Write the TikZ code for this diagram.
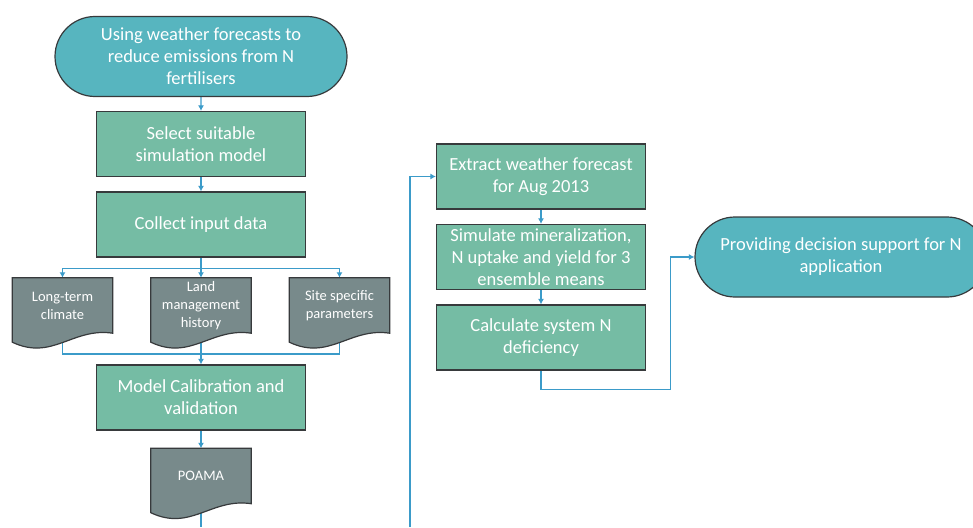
\documentclass[tikz,border=0pt]{standalone}
\usepackage{fontspec}
\setmainfont{Carlito}
\usetikzlibrary{shapes.misc,calc,arrows.meta}

\pgfdeclarelayer{lines}
\pgfdeclarelayer{shapes}
\pgfsetlayers{lines,shapes,main}

\definecolor{termfill}{RGB}{87,181,191}
\definecolor{procfill}{RGB}{117,188,164}
\definecolor{docfill}{RGB}{120,138,139}
\definecolor{edgegray}{RGB}{55,58,60}
\definecolor{linkblue}{RGB}{59,155,201}

\tikzset{
  terminal/.style={rounded rectangle, draw=edgegray, line width=1.2pt, fill=termfill, text=white,
    minimum width=292pt, minimum height=80pt, inner sep=0pt, align=center,
    font=\fontsize{18.5}{22}\selectfont},
  process/.style={rectangle, draw=edgegray, line width=1.2pt, fill=procfill, text=white,
    minimum width=209pt, minimum height=65pt, inner sep=0pt, align=center,
    font=\fontsize{18.5}{22}\selectfont},
  docnode/.style={rectangle, minimum width=100pt, minimum height=55pt, inner sep=0pt,
    text=white, align=center, font=\fontsize{14.5}{18}\selectfont},
  link/.style={->, >={Latex[length=5.5pt,width=6pt]}, line width=1.3pt, draw=linkblue},
  plainlink/.style={line width=1.3pt, draw=linkblue}
}

% document shape with wavy bottom, drawn under the node text
\newcommand{\docwave}[1]{%
  \begin{pgfonlayer}{shapes}
    \draw [draw=edgegray, line width=1.2pt, fill=docfill] (#1.north west) -- (#1.north east) -- (#1.south east)
      .. controls +(-40,-6) and +(40,19) .. ($(#1.south west)+(0,9)$) -- cycle;
  \end{pgfonlayer}}

\begin{document}
\begin{tikzpicture}[x=1pt,y=1pt,yscale=-1,xscale=1]
\useasboundingbox (0,0) rectangle (973,527);

% left column
\node [terminal] (start) at (201,56.5) {Using weather forecasts to\\reduce emissions from N\\fertilisers};
\node [process] (select) at (201,144) {Select suitable\\simulation model};
\node [process] (collect) at (201,224.5) {Collect input data};

% input documents
\node [docnode] (climate) at (62.5,305.5) {Long-term\\climate};
\node [docnode] (land) at (201,305.5) {Land\\management\\history};
\node [docnode] (params) at (339.5,305.5) {Site specific\\parameters};
\docwave{climate}
\docwave{land}
\docwave{params}

\node [process] (calib) at (201,397.5) {Model Calibration and\\validation};
\node [docnode] (poama) at (201,476) {POAMA};
\docwave{poama}

% right column
\node [process] (extract) at (541,176.5) {Extract weather forecast\\for Aug 2013};
\node [process] (simulate) at (541,257) {Simulate mineralization,\\N uptake and yield for 3\\ensemble means};
\node [process] (calc) at (541,337.5) {Calculate system N\\deficiency};
\node [terminal] (support) at (841,257) {Providing decision support for N\\application};

\coordinate (split) at (201,268.5);
\coordinate (join) at (201,354);
\coordinate (poamaend) at (201,527);
\coordinate (loopstart) at (410,527);
\coordinate (turn) at (670.5,389.5);

\begin{pgfonlayer}{lines}
% links of the left column
\draw [link] (start) -- (select);
\draw [link] (select) -- (collect);
\draw [plainlink] (collect.south) -- (split);
\draw [link] (split) -| (climate.north);
\draw [link] (split) -- (land.north);
\draw [link] (split) -| (params.north);
\draw [plainlink] (climate.south) |- (join) -| (params.south);
\draw [link] (land.south) -- (calib.north);
\draw [link] (calib) -- (poama);
\draw [plainlink] (poama.south) -- (poamaend);

% links of the right column
\draw [link] (loopstart) |- (extract.west);
\draw [link] (extract) -- (simulate);
\draw [link] (simulate) -- (calc);
\draw [link] (calc.south) |- (turn) |- (support.west);
\end{pgfonlayer}

\end{tikzpicture}
\end{document}
